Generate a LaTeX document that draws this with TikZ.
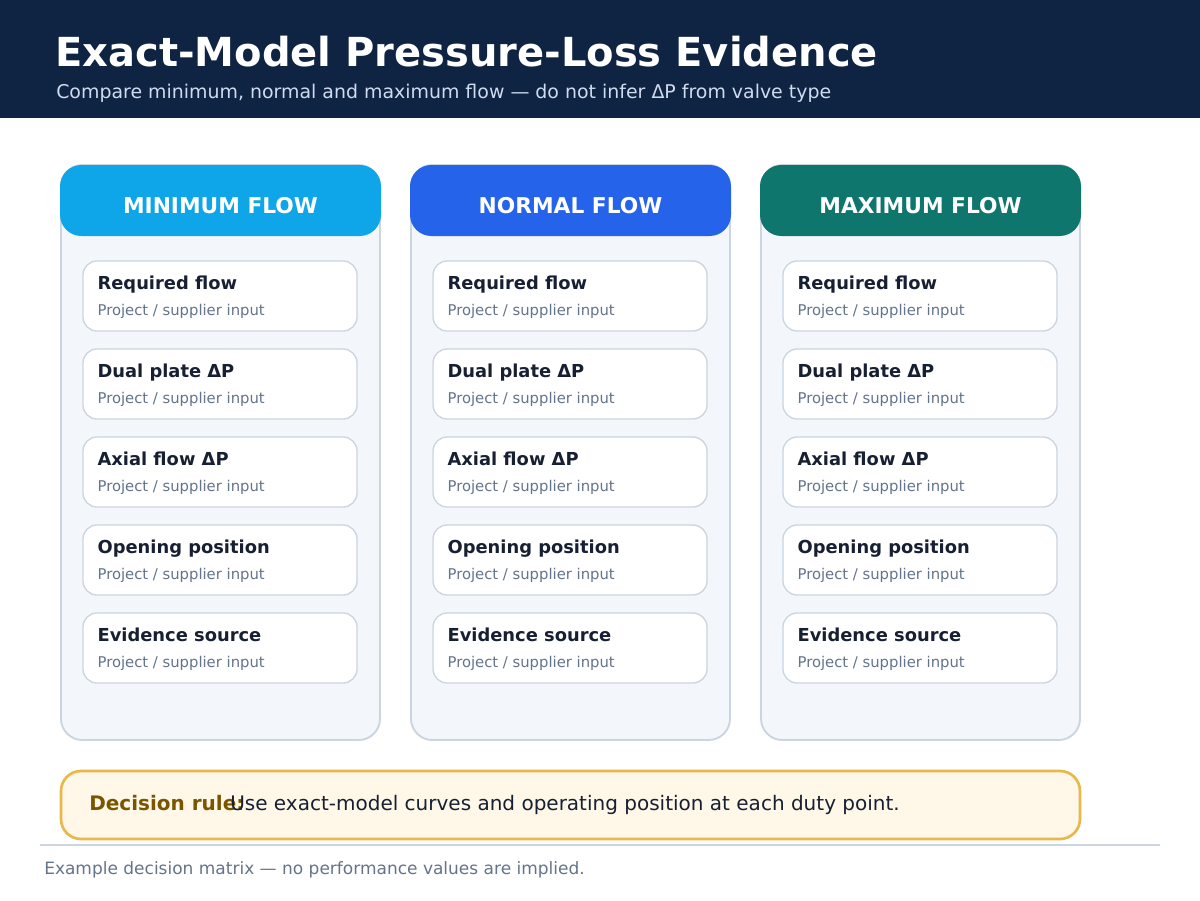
\documentclass[tikz,border=0pt]{standalone}
\usepackage{fontspec}
\setmainfont{DejaVu Sans}
\usetikzlibrary{positioning}
\definecolor{navy}{HTML}{0F2342}
\definecolor{subtxt}{HTML}{CFDBEE}
\definecolor{minc}{HTML}{0EA5E9}
\definecolor{normc}{HTML}{2563EB}
\definecolor{maxc}{HTML}{0F766E}
\definecolor{panelfill}{HTML}{F3F7FB}
\definecolor{edge}{HTML}{CBD5E1}
\definecolor{ink}{HTML}{172033}
\definecolor{muted}{HTML}{64748B}
\definecolor{rulefill}{HTML}{FFF7E8}
\definecolor{ruleedge}{HTML}{E8B84A}
\definecolor{rulebrown}{HTML}{7A5500}
\tikzset{
  panel/.style={draw=edge, line width=1.4pt, fill=panelfill, rounded corners=16pt, minimum width=239.25pt, minimum height=431.25pt, inner sep=0pt},
  head/.style={rounded corners=16pt, minimum width=240.75pt, minimum height=53.25pt, inner sep=0pt},
  headtxt/.style={text=white, font=\fontsize{16.3pt}{19pt}\selectfont\bfseries, anchor=base, inner sep=0pt},
  card/.style={draw=edge, line width=1pt, fill=white, rounded corners=10.5pt, minimum width=205.5pt, minimum height=52.5pt, inner sep=0pt},
  cardttl/.style={text=ink, font=\fontsize{13.4pt}{16pt}\selectfont\bfseries, anchor=base west, inner sep=0pt},
  cardsub/.style={text=muted, font=\fontsize{11.1pt}{13pt}\selectfont, anchor=base west, inner sep=0pt},
  rulebox/.style={draw=ruleedge, line width=2pt, fill=rulefill, rounded corners=15pt, minimum width=764.25pt, minimum height=51pt, inner sep=0pt},
  txt/.style={anchor=base west, inner sep=0pt},
}
\begin{document}
\begin{tikzpicture}[x=0.75pt, y=-0.75pt]
    \useasboundingbox[fill=white] (0,0) rectangle (1200,900);
    % title band
    \fill[navy] (0,0) rectangle (1200,118);
    \node[txt, text=white, font=\fontsize{30pt}{36pt}\selectfont\bfseries] (title) at (55,66) {Exact-Model Pressure-Loss Evidence};
    \node[txt, text=subtxt, font=\fontsize{14.2pt}{17pt}\selectfont] (subtitle) at (56,98) {Compare minimum, normal and maximum flow — do not infer ΔP from valve type};
    % flow columns
    \foreach \c/\cx/\col/\lab in {0/220.5/minc/MINIMUM FLOW, 1/570.5/normc/NORMAL FLOW, 2/920.5/maxc/MAXIMUM FLOW}{
      \node[panel] (panel\c) at (\cx,452.5) {};
      \node[head, fill=\col] (head\c) at (\cx,200.5) {};
      \node[headtxt] (lab\c) at (\cx,213) {\lab};
      \foreach \r/\ttl in {0/Required flow, 1/Dual plate ΔP, 2/Axial flow ΔP, 3/Opening position, 4/Evidence source}{
        \node[card] (card\c-\r) at (\cx-0.5,{296+88*\r}) {};
        \node[cardttl] (ttl\c-\r) at ([xshift=11.25pt,yshift=-21.5pt]card\c-\r.north west) {\ttl};
        \node[cardsub] (sub\c-\r) at ([xshift=11.25pt,yshift=-41.25pt]card\c-\r.north west) {Project / supplier input};
      }
    }
    % decision rule
    \node[rulebox] (rule) at (570.5,805) {};
    \node[txt, text=rulebrown, font=\fontsize{15pt}{18pt}\selectfont\bfseries] (rulelab) at (89,810) {Decision rule:};
    \node[txt, text=ink, font=\fontsize{15pt}{18pt}\selectfont] (ruletxt) at (230,810) {Use exact-model curves and operating position at each duty point.};
    \draw[edge, line width=1.5pt] (40,845) -- (1160,845);
    \node[txt, text=muted, font=\fontsize{12.75pt}{15pt}\selectfont] (foot) at (44,874) {Example decision matrix — no performance values are implied.};
\end{tikzpicture}
\end{document}
